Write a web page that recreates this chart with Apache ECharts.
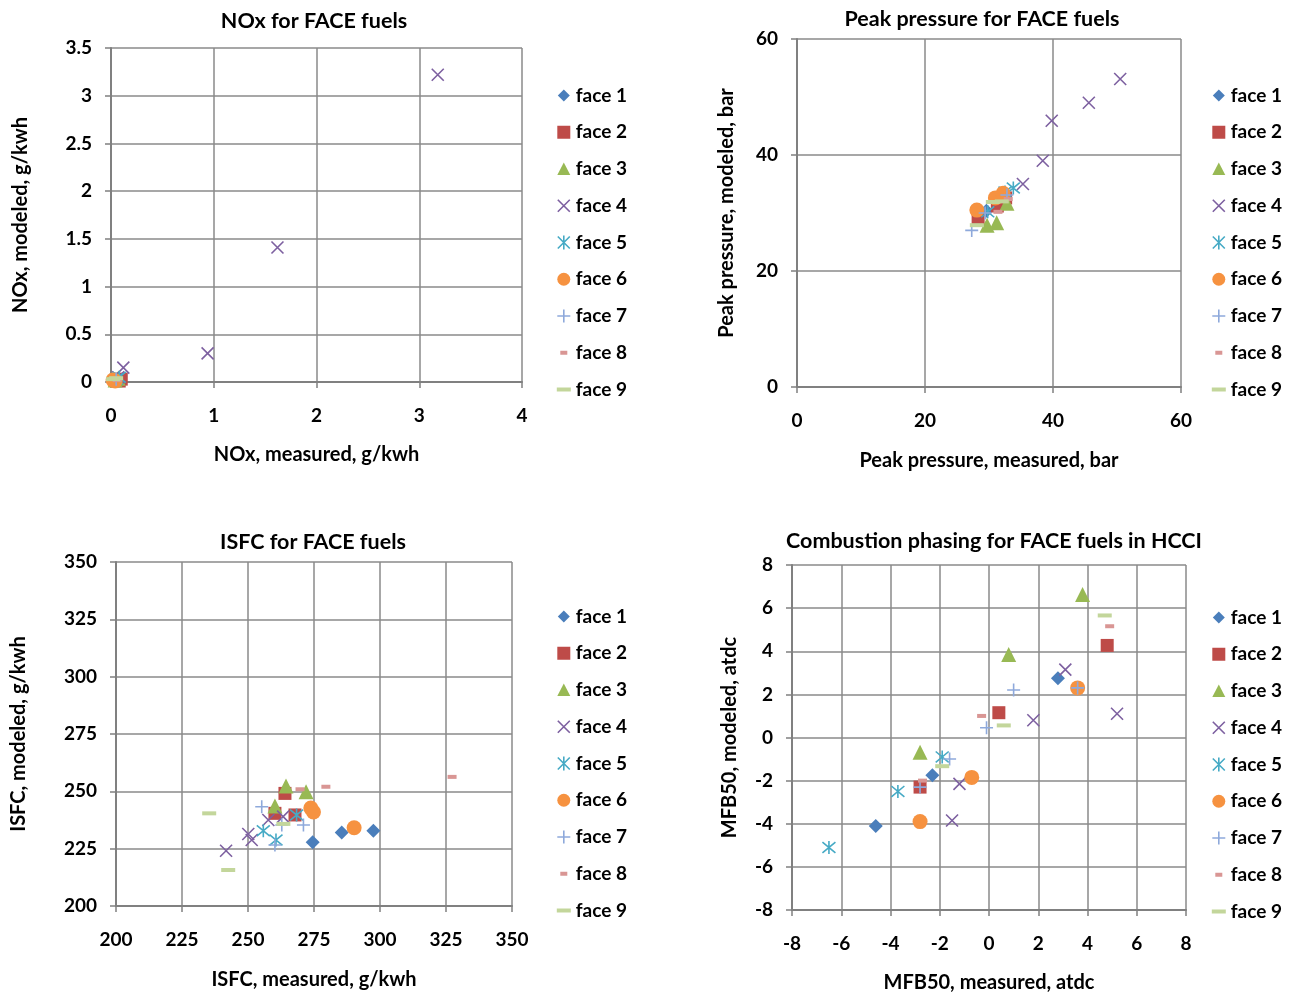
<!DOCTYPE html>
<html><head><meta charset="utf-8">
<script src="https://cdn.jsdelivr.net/npm/echarts@6/dist/echarts.min.js"></script>
<style>html,body{margin:0;padding:0;background:#fff}#c{width:1294px;height:996px}</style>
</head><body><div id="c"></div>
<script>
const seriesNames = ['face 1','face 2','face 3','face 4','face 5','face 6','face 7','face 8','face 9'];

// Panel 1: NOx (measured, modeled) g/kWh
const noxFace1 = [[0.05,0.02],[0.08,0.03]];
const noxFace2 = [[0.08,0.01],[0.10,0.03]];
const noxFace3 = [[0.04,0.02],[0.07,0.04]];
const noxFace4 = [[3.18,3.22],[1.62,1.41],[0.94,0.30],[0.12,0.15],[0.07,0.05]];
const noxFace5 = [[0.05,0.03],[0.08,0.05]];
const noxFace6 = [[0.02,0.02],[0.04,0.01]];
const noxFace7 = [[0.05,0.03]];
const noxFace8 = [[0.06,0.02]];
const noxFace9 = [[0.02,0.03],[0.05,0.04]];

// Panel 2: Peak pressure (measured, modeled) bar
const ppFace1 = [[29.6,30.4],[32.4,32.6]];
const ppFace2 = [[28.3,29.1],[31.3,31.2],[32.6,32.6]];
const ppFace3 = [[29.7,27.9],[31.2,28.3],[32.8,31.7]];
const ppFace4 = [[50.5,53.1],[45.6,49.0],[39.8,45.9],[38.4,39.0],[35.3,35.0]];
const ppFace5 = [[33.8,34.3],[32.5,33.6],[29.8,30.2]];
const ppFace6 = [[28.1,30.5],[31.0,32.6],[32.2,33.4]];
const ppFace7 = [[27.3,27.0],[29.4,30.0],[32.8,33.1]];
const ppFace8 = [[31.4,30.2],[33.0,32.4]];
const ppFace9 = [[28.1,27.9],[30.6,31.9],[32.0,32.0]];

// Panel 3: ISFC (measured, modeled) g/kWh
const isfcFace1 = [[274.5,227.8],[285.5,232.0],[297.5,232.8]];
const isfcFace2 = [[264.0,249.1],[260.2,240.4],[267.8,239.7]];
const isfcFace3 = [[264.4,252.3],[272.0,249.8],[260.2,243.6]];
const isfcFace4 = [[241.7,224.1],[250.1,231.4],[251.4,228.8],[257.7,237.5],[263.3,239.0]];
const isfcFace5 = [[255.8,232.8],[260.6,228.8],[268.4,239.7]];
const isfcFace6 = [[273.8,242.7],[274.8,241.0],[290.2,234.1]];
const isfcFace7 = [[255.2,243.3],[260.2,226.6],[262.8,235.3],[271.0,235.3]];
const isfcFace8 = [[269.7,250.9],[279.5,252.0],[327.3,256.3]];
const isfcFace9 = [[235.3,240.4],[242.5,215.7],[263.4,235.8]];

// Panel 4: MFB50 (measured, modeled) atdc
const mfbFace1 = [[-4.6,-4.1],[-2.3,-1.75],[2.8,2.75]];
const mfbFace2 = [[-2.8,-2.3],[0.4,1.15],[4.8,4.27]];
const mfbFace3 = [[-2.8,-0.68],[0.8,3.85],[3.8,6.63]];
const mfbFace4 = [[-1.5,-3.85],[-1.2,-2.15],[1.8,0.8],[3.1,3.15],[5.2,1.1]];
const mfbFace5 = [[-6.5,-5.1],[-3.7,-2.5],[-1.9,-0.9]];
const mfbFace6 = [[-2.8,-3.9],[-0.7,-1.85],[3.6,2.3]];
const mfbFace7 = [[-2.8,-2.3],[-1.6,-1.0],[-0.1,0.45],[1.0,2.2],[3.6,2.3]];
const mfbFace8 = [[-2.7,-2.0],[-0.3,1.0],[4.9,5.16]];
const mfbFace9 = [[-1.9,-1.33],[0.6,0.56],[4.7,5.66]];

const panelData = [
  [noxFace1,noxFace2,noxFace3,noxFace4,noxFace5,noxFace6,noxFace7,noxFace8,noxFace9],
  [ppFace1,ppFace2,ppFace3,ppFace4,ppFace5,ppFace6,ppFace7,ppFace8,ppFace9],
  [isfcFace1,isfcFace2,isfcFace3,isfcFace4,isfcFace5,isfcFace6,isfcFace7,isfcFace8,isfcFace9],
  [mfbFace1,mfbFace2,mfbFace3,mfbFace4,mfbFace5,mfbFace6,mfbFace7,mfbFace8,mfbFace9]
];

const titles = ['NOx for FACE fuels','Peak pressure for FACE fuels','ISFC for FACE fuels','Combustion phasing for FACE fuels in HCCI'];
const xNames = ['NOx, measured, g/kwh','Peak pressure, measured, bar','ISFC, measured, g/kwh','MFB50, measured, atdc'];
const yNames = ['NOx, modeled, g/kwh','Peak pressure, modeled, bar','ISFC, modeled, g/kwh','MFB50, modeled, atdc'];
const xRanges = [[0,4,1],[0,60,20],[200,350,25],[-8,8,2]];
const yRanges = [[0,3.5,0.5],[0,60,20],[200,350,25],[-8,8,2]];

// layout (pixels)
const layout = [
  {grid:[111,48,411,334], title:[309,5], xGap:63, yGap:80, legend:[551,81]},
  {grid:[797,39,384,348], title:[977,3], xGap:64, yGap:60, legend:[1206,81]},
  {grid:[116,562,396,344], title:[308,526], xGap:64, yGap:87, legend:[551,602]},
  {grid:[792,565,394,345], title:[989,525], xGap:63, yGap:52, legend:[1206,603]}
];

const FONT = 'Lato, "Open Sans", sans-serif';
const colors = ['#4A7EBB','#BE4B48','#98B954','#7D60A0','#46AAC5','#F69240','#8EA9DB','#D99694','#C3D69B'];
const isStroke = [false,false,false,true,true,false,true,false,false];
const symbols = ['diamond','rect','triangle',
  'path://M0 0L10 10M10 0L0 10',
  'path://M0 0L10 10M10 0L0 10M5 -1L5 11',
  'circle',
  'path://M5 0L5 10M0 5L10 5',
  'rect','rect'];
const sizes = [14,13,15,12,13,15,13,[9,4],[14,4]];
const legendIcons = [
  'path://M0 0M14 14M7 1L13 7L7 13L1 7Z',
  'path://M0 0M14 14M0.5 0.5L13.5 0.5L13.5 13.5L0.5 13.5Z',
  'path://M0 0M14 14M7 0.5L13.5 13L0.5 13Z',
  'path://M0 0M14 14M1 1L13 13M13 1L1 13',
  'path://M0 0M14 14M1 1L13 13M13 1L1 13M7 0L7 14',
  'path://M0 0M14 14M7 0.5A6.5 6.5 0 1 1 6.99 0.5Z',
  'path://M0 0M14 14M7 0.5L7 13.5M0.5 7L13.5 7',
  'path://M0 0M14 14M3.5 5L10.5 5L10.5 9L3.5 9Z',
  'path://M0 0M14 14M0 5L14 5L14 9L0 9Z'
];

function styleFor(i){
  return isStroke[i]
    ? {color:'rgba(0,0,0,0)', borderColor:colors[i], borderWidth:1.6, opacity:1}
    : {color:colors[i], borderWidth:0, opacity:1};
}

const gridLine = {color:'#8a8a8a', width:1.5};
const labelStyle = {fontSize:19, fontWeight:'bold', color:'#000', fontFamily:FONT};
const nameStyle = {fontSize:20, fontWeight:'bold', color:'#000', fontFamily:FONT};

const option = {
  backgroundColor:'#fff',
  animation:false,
  title: titles.map((t,p)=>({text:t, left:layout[p].title[0], top:layout[p].title[1], textAlign:'center',
    textStyle:{fontSize:21.5, fontWeight:'bold', color:'#000', fontFamily:FONT}})),
  grid: layout.map(l=>({left:l.grid[0], top:l.grid[1], width:l.grid[2], height:l.grid[3], containLabel:false})),
  xAxis: xRanges.map((r,p)=>({gridIndex:p, type:'value', min:r[0], max:r[1], interval:r[2],
    name:xNames[p], nameLocation:'middle', nameGap:layout[p].xGap, nameTextStyle:nameStyle,
    axisLine:{show:true, onZero:false, lineStyle:{color:'#808080', width:2}},
    axisTick:{show:true, length:6, lineStyle:{color:'#808080', width:1.5}},
    axisLabel:Object.assign({margin:24}, labelStyle),
    splitLine:{show:true, lineStyle:gridLine}})),
  yAxis: yRanges.map((r,p)=>({gridIndex:p, type:'value', min:r[0], max:r[1], interval:r[2],
    name:yNames[p], nameLocation:'middle', nameGap:layout[p].yGap, nameTextStyle:nameStyle,
    axisLine:{show:true, onZero:false, lineStyle:{color:'#808080', width:2}},
    axisTick:{show:true, length:6, lineStyle:{color:'#808080', width:1.5}},
    axisLabel:Object.assign({margin:19}, labelStyle),
    splitLine:{show:true, lineStyle:gridLine}})),
  legend: layout.map(l=>({orient:'vertical', left:l.legend[0], top:l.legend[1],
    itemWidth:14, itemHeight:14, itemGap:17.75, selectedMode:false,
    textStyle:{fontSize:19, fontWeight:'bold', color:'#000', fontFamily:FONT, lineHeight:19},
    data: seriesNames.map((n,i)=>({name:n, icon:legendIcons[i], itemStyle:styleFor(i)}))})),
  series: []
};

panelData.forEach((arr,p)=>{
  arr.forEach((d,i)=>{
    option.series.push({
      type:'scatter', name:seriesNames[i], xAxisIndex:p, yAxisIndex:p,
      data:d, symbol:symbols[i], symbolSize:sizes[i], itemStyle:styleFor(i),
      clip:false, emphasis:{disabled:true}
    });
  });
});

const chart = echarts.init(document.getElementById('c'));
chart.setOption(option);
</script>
</body></html>
